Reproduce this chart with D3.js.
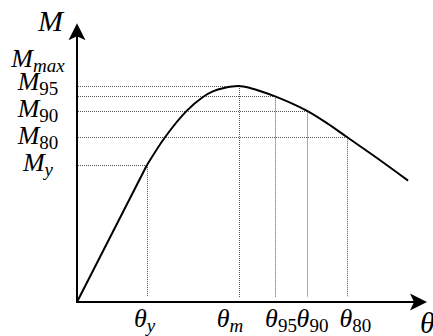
<!DOCTYPE html>
<html>
<head>
<meta charset="utf-8">
<script src="https://d3js.org/d3.v7.min.js"></script>
<style>
  body { margin: 0; background: #fff; }
  svg { display: block; }
  svg text { font-family: "Times New Roman", "Liberation Serif", "DejaVu Serif", serif; }
</style>
</head>
<body>
<svg id="chart"></svg>
<script>
// moment-rotation backbone, normalised: theta / theta_y, M / M_max
const elasticTheta = [0, 1.0];
const elasticM = [0, 0.634];
const curveTheta = [1.0, 1.26, 1.57, 1.8, 1.94, 2.1, 2.31, 2.47, 2.83, 3.28, 3.57, 3.85, 4.28, 4.73];
const curveM = [0.634, 0.764, 0.886, 0.949, 0.975, 0.991, 1.0, 0.991, 0.952, 0.886, 0.828, 0.765, 0.668, 0.562];

// characteristic points
const levelTags = ["max", "95", "90", "80", "y"];
const levelM = [1.0, 0.952, 0.886, 0.765, 0.634];
const levelTheta = [2.31, 2.83, 3.28, 3.85, 1.0];
const thetaTags = ["m", "95", "90", "80", "y"];

const axisMaxTheta = 5.0;
const axisMaxM = 1.29;

const W = 433, H = 336;
const svg = d3.select("#chart").attr("width", W).attr("height", H);

const x = d3.scaleLinear().domain([0, axisMaxTheta]).range([77, 427]);
const y = d3.scaleLinear().domain([0, 1]).range([302, 86]);

// label nudges (px), same order as levelTags
const mLabelDy = [-19, -6, 6, 7, 6];
const thLabelDx = [-22, -10, -10, -7, -13];

const isItalic = (t) => !/^\d+$/.test(t);

// guide lines
const guides = svg.append("g")
  .attr("stroke", "#555")
  .attr("stroke-width", 1)
  .attr("stroke-dasharray", "1,1")
  .attr("fill", "none");
levelTags.forEach((t, i) => {
  guides.append("line")
    .attr("x1", x(0) + 1).attr("x2", x(levelTheta[i]))
    .attr("y1", Math.round(y(levelM[i])) + 0.5).attr("y2", Math.round(y(levelM[i])) + 0.5);
  guides.append("line")
    .attr("x1", Math.round(x(levelTheta[i])) + 0.5).attr("x2", Math.round(x(levelTheta[i])) + 0.5)
    .attr("y1", y(levelM[i])).attr("y2", y(0) - 5);
});

// curve
const line = d3.line().x((d) => x(d[0])).y((d) => y(d[1]));
svg.append("path")
  .datum(d3.zip(elasticTheta, elasticM))
  .attr("fill", "none").attr("stroke", "#000").attr("stroke-width", 2)
  .attr("d", line);
svg.append("path")
  .datum(d3.zip(curveTheta, curveM))
  .attr("fill", "none").attr("stroke", "#000").attr("stroke-width", 2)
  .attr("stroke-linejoin", "round")
  .attr("d", line.curve(d3.curveCatmullRom.alpha(0.5)));

// axes with arrowheads
const ax = svg.append("g");
const x0 = x(0), y0 = y(0), xEnd = x(axisMaxTheta), yEnd = y(axisMaxM);
ax.append("line").attr("x1", x0).attr("y1", y0 + 1).attr("x2", x0).attr("y2", yEnd + 12)
  .attr("stroke", "#000").attr("stroke-width", 2);
ax.append("line").attr("x1", x0 - 1).attr("y1", y0).attr("x2", xEnd - 12).attr("y2", y0)
  .attr("stroke", "#000").attr("stroke-width", 2);
ax.append("path")
  .attr("d", `M${x0},${yEnd} L${x0 + 8.5},${yEnd + 17} L${x0},${yEnd + 13} L${x0 - 8.5},${yEnd + 17} Z`)
  .attr("fill", "#000");
ax.append("path")
  .attr("d", `M${xEnd},${y0} L${xEnd - 17},${y0 - 8.5} L${xEnd - 13},${y0} L${xEnd - 17},${y0 + 8.5} Z`)
  .attr("fill", "#000");

// axis titles
svg.append("text").attr("x", 38).attr("y", 31)
  .attr("font-size", 30).attr("font-style", "italic").text("M");
svg.append("text").attr("x", 420).attr("y", 333)
  .attr("font-size", 30).attr("font-style", "italic").text("θ");

// labels with subscripts
const subLabel = (g, main, sub) => {
  g.append("tspan").attr("font-style", "italic").text(main);
  g.append("tspan")
    .attr("font-size", 19)
    .attr("dy", 5)
    .attr("font-style", isItalic(sub) ? "italic" : "normal")
    .text(sub);
};

levelTags.forEach((t, i) => {
  const g = svg.append("text")
    .attr("x", 38)
    .attr("y", y(levelM[i]) + mLabelDy[i])
    .attr("text-anchor", "middle")
    .attr("font-size", 26);
  subLabel(g, "M", t);
});

thetaTags.forEach((t, i) => {
  const g = svg.append("text")
    .attr("x", x(levelTheta[i]) + thLabelDx[i])
    .attr("y", y0 + 25)
    .attr("font-size", 26);
  subLabel(g, "θ", t);
});
</script>
</body>
</html>
